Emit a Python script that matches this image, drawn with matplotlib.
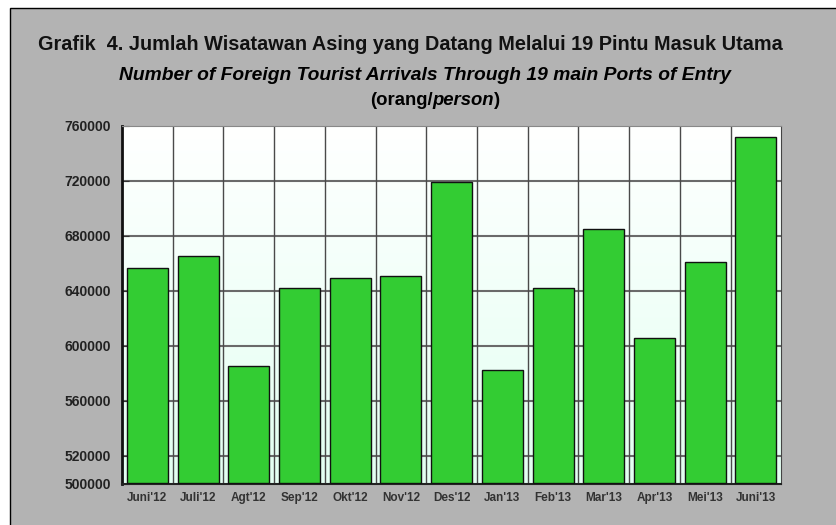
import matplotlib
matplotlib.use('Agg')
import matplotlib.pyplot as plt
from matplotlib import font_manager
from matplotlib.patches import Rectangle
import numpy as np

months = ["Juni'12", "Juli'12", "Agt'12", "Sep'12", "Okt'12", "Nov'12", "Des'12",
          "Jan'13", "Feb'13", "Mar'13", "Apr'13", "Mei'13", "Juni'13"]
arrivals = [656500, 665500, 585700, 642200, 649500, 651200, 719000,
            582300, 642000, 685100, 605600, 660800, 751800]
yticks = [500000, 520000, 560000, 600000, 640000, 680000, 720000, 760000]

names = set(f.name for f in font_manager.fontManager.ttflist)
font = 'Liberation Sans Narrow' if 'Liberation Sans Narrow' in names else 'Liberation Sans'
plt.rcParams['font.family'] = [font, 'DejaVu Sans']

fig = plt.figure(figsize=(8.36, 5.25), dpi=100)
fig.patch.set_facecolor('white')
fig.patches.append(Rectangle((10/836, -0.01), 1.0, (525-8)/525 + 0.01, transform=fig.transFigure,
                             facecolor='#b3b3b3', edgecolor='black', lw=1.0, zorder=-5))

ax = fig.add_axes([122/836, (525-483.5)/525, 659.3/836, 357.5/525])
ax.set_facecolor('none')

# background gradient white -> mint
grad = np.linspace(0, 1, 256).reshape(-1, 1)
ax.imshow(grad, aspect='auto', extent=(-0.5, len(months)-0.5, 500000, 760000), origin='upper',
          cmap=matplotlib.colors.LinearSegmentedColormap.from_list('g', ['#ffffff', '#e3fff2']),
          zorder=0)

x = np.arange(len(months))
ax.bar(x, [a - 500000 for a in arrivals], bottom=500000, width=0.81, color='#33cc33',
       edgecolor='#111111', linewidth=1.0, zorder=3)

ax.set_xlim(-0.5, len(months)-0.5)
ax.set_ylim(500000, 760000)
for yv in yticks[1:-1]:
    ax.axhline(yv, color='#6a6a6a', lw=1.5, zorder=1)
for xv in np.arange(0.5, len(months)-0.5):
    ax.axvline(xv, color='#4a4a4a', lw=1.0, zorder=1)

ax.set_yticks(yticks)
ax.set_yticklabels([str(v) for v in yticks], fontsize=10, fontweight='bold', color='#222222')
ax.set_xticks(x)
ax.set_xticklabels(months, fontsize=8.5, fontweight='bold', color='#333333')
ax.tick_params(axis='y', length=5, direction='in', pad=8, color='#333333')
ax.tick_params(axis='x', length=0, pad=6)
ax.spines['left'].set_linewidth(2)
ax.spines['left'].set_color('#111111')
ax.spines['bottom'].set_linewidth(1.5)
ax.spines['bottom'].set_color('#222222')
ax.spines['top'].set_color('#888888')
ax.spines['right'].set_color('#444444')

fig.text(410/836, 1 - 45/525, 'Grafik  4. Jumlah Wisatawan Asing yang Datang Melalui 19 Pintu Masuk Utama',
         ha='center', va='center', fontsize=14.3, fontweight='bold', color='#111111')
fig.text(425/836, 1 - 76/525, 'Number of Foreign Tourist Arrivals Through 19 main Ports of Entry',
         ha='center', va='center', fontsize=13.9, fontweight='bold', style='italic', color='#000000')

# third line with mixed styles
fig.canvas.draw()
r = fig.canvas.get_renderer()
parts = [('(orang/', 'normal'), ('person', 'italic'), (')', 'normal')]
texts = []
for s, st in parts:
    texts.append(fig.text(0, 1 - 101/525, s, ha='left', va='center', fontsize=13.3,
                          fontweight='bold', style=st, color='#000000'))
widths = [t.get_window_extent(r).width for t in texts]
xpos = 435 - sum(widths) / 2
for t, w in zip(texts, widths):
    t.set_x(xpos / 836)
    xpos += w

fig.savefig('out.png', dpi=100, facecolor=fig.get_facecolor())
